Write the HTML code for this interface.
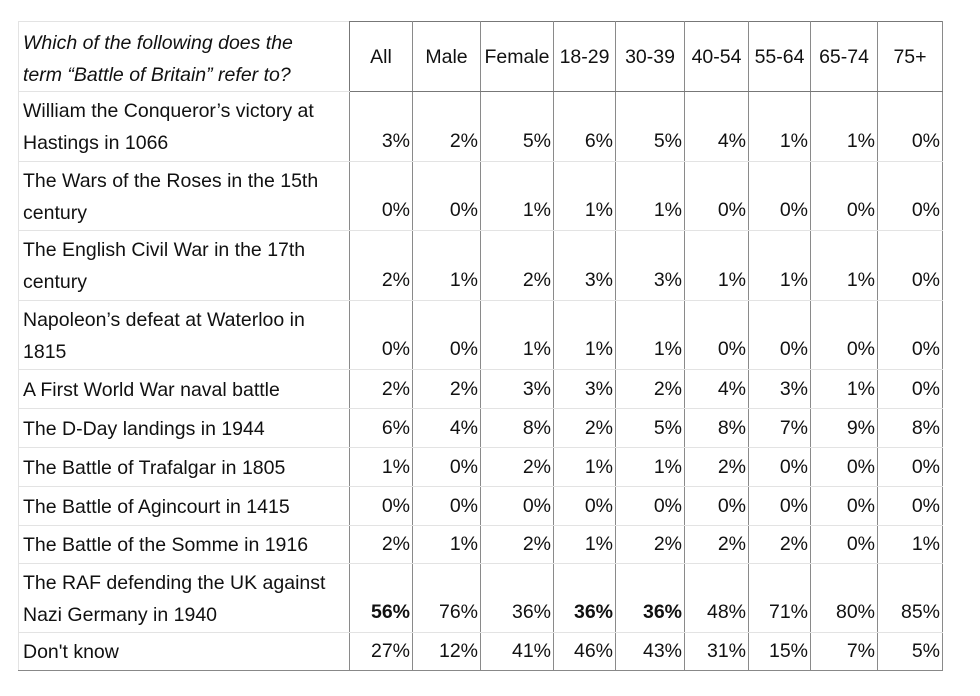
<!DOCTYPE html>
<html><head><style>
body{margin:0;background:#fff;width:980px;height:696px;position:relative;font-family:"Liberation Sans",sans-serif;color:#111}
table{position:absolute;left:18px;top:21px;border-collapse:collapse;table-layout:fixed;font-size:19.5px}
td{border:1px solid #e3e3e3;border-left:1px solid #8a8a8a;border-right:1px solid #8a8a8a;text-align:right;vertical-align:bottom;padding:0 2px 4px 0;line-height:32px;white-space:nowrap;overflow:hidden}
td.l{text-align:left;padding:3px 4px 1px 4px;border-left:1px solid #e3e3e3;line-height:32px;vertical-align:top}
tr.h td{vertical-align:middle;text-align:center;padding:0;border-top:1px solid #777;border-bottom:1px solid #777}
tr.h td.l{font-style:italic;text-align:left;padding:4px 4px 0 4px;border-top:1px solid #e3e3e3;border-bottom:1px solid #e3e3e3;border-right:1px solid #777}
tr.s td{padding-bottom:1px;vertical-align:middle}
tr.s td.l{padding:1px 4px 0 4px;vertical-align:middle}
tr:last-child td{border-bottom:1px solid #888}
</style></head><body>
<table>
<colgroup><col style="width:331px"><col style="width:63px"><col style="width:68px"><col style="width:73px"><col style="width:62px"><col style="width:69px"><col style="width:64px"><col style="width:62px"><col style="width:67px"><col style="width:65px"></colgroup>
<tr class="h" style="height:70px"><td class="l">Which of the following does the<br>term “Battle of Britain” refer to?</td><td>All</td><td>Male</td><td>Female</td><td>18-29</td><td>30-39</td><td>40-54</td><td>55-64</td><td>65-74</td><td>75+</td></tr>
<tr style="height:70px"><td class="l">William the Conqueror’s victory at<br>Hastings in 1066</td><td>3%</td><td>2%</td><td>5%</td><td>6%</td><td>5%</td><td>4%</td><td>1%</td><td>1%</td><td>0%</td></tr>
<tr style="height:69px"><td class="l">The Wars of the Roses in the 15th<br>century</td><td>0%</td><td>0%</td><td>1%</td><td>1%</td><td>1%</td><td>0%</td><td>0%</td><td>0%</td><td>0%</td></tr>
<tr style="height:70px"><td class="l">The English Civil War in the 17th<br>century</td><td>2%</td><td>1%</td><td>2%</td><td>3%</td><td>3%</td><td>1%</td><td>1%</td><td>1%</td><td>0%</td></tr>
<tr style="height:69px"><td class="l">Napoleon’s defeat at Waterloo in<br>1815</td><td>0%</td><td>0%</td><td>1%</td><td>1%</td><td>1%</td><td>0%</td><td>0%</td><td>0%</td><td>0%</td></tr>
<tr class="s" style="height:39px"><td class="l">A First World War naval battle</td><td>2%</td><td>2%</td><td>3%</td><td>3%</td><td>2%</td><td>4%</td><td>3%</td><td>1%</td><td>0%</td></tr>
<tr class="s" style="height:39px"><td class="l">The D-Day landings in 1944</td><td>6%</td><td>4%</td><td>8%</td><td>2%</td><td>5%</td><td>8%</td><td>7%</td><td>9%</td><td>8%</td></tr>
<tr class="s" style="height:39px"><td class="l">The Battle of Trafalgar in 1805</td><td>1%</td><td>0%</td><td>2%</td><td>1%</td><td>1%</td><td>2%</td><td>0%</td><td>0%</td><td>0%</td></tr>
<tr class="s" style="height:39px"><td class="l">The Battle of Agincourt in 1415</td><td>0%</td><td>0%</td><td>0%</td><td>0%</td><td>0%</td><td>0%</td><td>0%</td><td>0%</td><td>0%</td></tr>
<tr class="s" style="height:38px"><td class="l">The Battle of the Somme in 1916</td><td>2%</td><td>1%</td><td>2%</td><td>1%</td><td>2%</td><td>2%</td><td>2%</td><td>0%</td><td>1%</td></tr>
<tr style="height:69px"><td class="l">The RAF defending the UK against<br>Nazi Germany in 1940</td><td><b>56%</b></td><td>76%</td><td>36%</td><td><b>36%</b></td><td><b>36%</b></td><td>48%</td><td>71%</td><td>80%</td><td>85%</td></tr>
<tr class="s" style="height:38px"><td class="l">Don't know</td><td>27%</td><td>12%</td><td>41%</td><td>46%</td><td>43%</td><td>31%</td><td>15%</td><td>7%</td><td>5%</td></tr>
</table>
</body></html>
